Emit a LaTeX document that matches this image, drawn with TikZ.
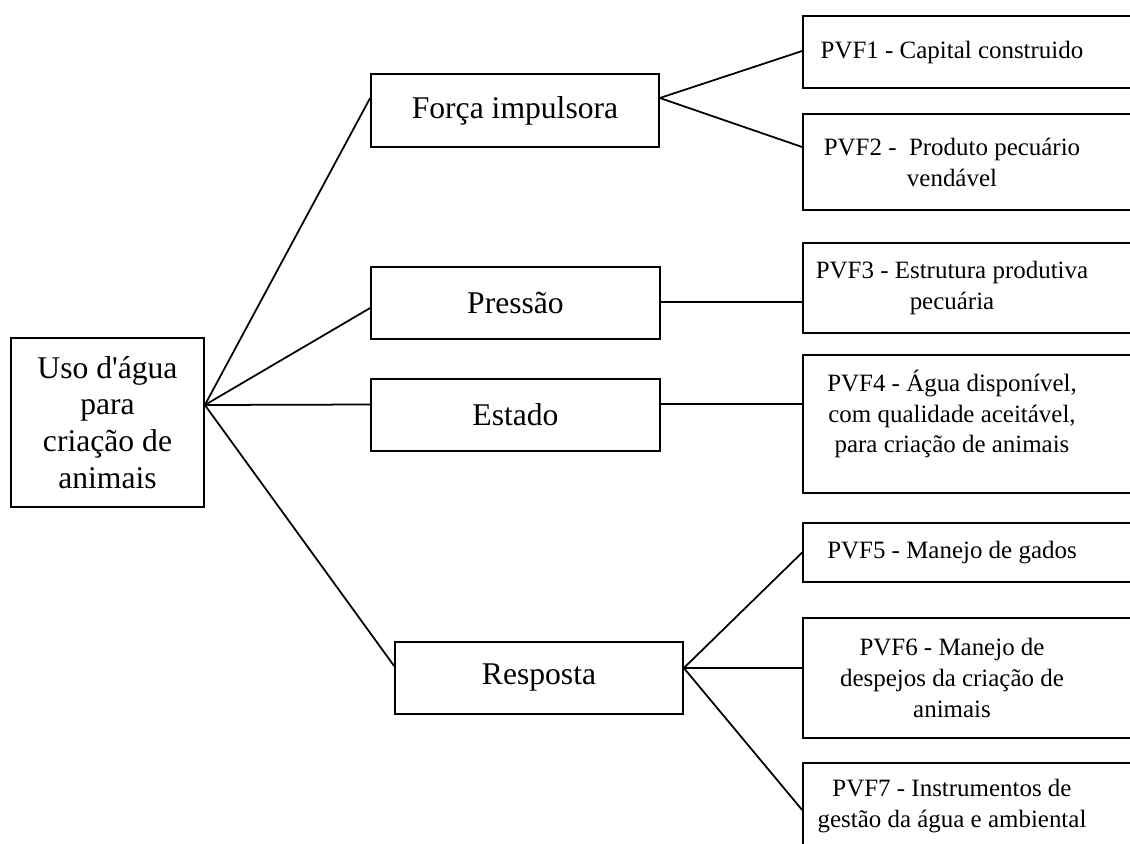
\documentclass[tikz,border=0pt]{standalone}
\usepackage{fontspec}
\setmainfont{Liberation Serif}
\usetikzlibrary{calc}

\begin{document}
\begin{tikzpicture}[x=0.02cm, y=-0.02cm, line width=1pt,
    box/.style={draw, inner sep=0pt},
    big/.style={box, font=\fontsize{18}{21}\selectfont, align=center},
    pvf/.style={box, minimum width=6.74cm},
    pvftxt/.style={font=\fontsize{14.2}{17.6}\selectfont, align=center, xshift=-0.39cm}]
    % Same page as the original
    \useasboundingbox (0,0) rectangle (1130,843);
    \clip (0,0) rectangle (1130,843);

    % Root and the four boxes of the first level
    \node[big, minimum width=3.86cm, minimum height=3.38cm] (uso) at (107.5,422.5) {Uso d\textquotesingle água\\para\\criação de\\animais};
    \node[big, minimum width=5.76cm, minimum height=1.46cm] (forca) at (515,110.5) {Força impulsora};
    \node[big, minimum width=5.78cm, minimum height=1.44cm] (pressao) at (515.5,303) {Pressão};
    \node[big, minimum width=5.78cm, minimum height=1.44cm] (estado) at (515.5,415) {Estado};
    \node[big, minimum width=5.76cm, minimum height=1.44cm] (resposta) at (539,678) {Resposta};

    % PVF boxes (they run off the right edge)
    \node[pvf, minimum height=1.44cm, label={[pvftxt]center:PVF1 - Capital construido}] (pvf1) at (971.5,52) {};
    \node[pvf, minimum height=1.92cm, label={[pvftxt]center:{PVF2 -~ Produto pecuário\\vendável}}] (pvf2) at (971.5,162) {};
    \node[pvf, minimum height=1.80cm, label={[pvftxt]center:{PVF3 - Estrutura produtiva\\pecuária}}] (pvf3) at (971.5,288) {};
    \node[pvf, minimum height=2.76cm, label={[pvftxt, yshift=0.2cm]center:{PVF4 - Água disponível,\\com qualidade aceitável,\\para criação de animais}}] (pvf4) at (971.5,424) {};
    \node[pvf, minimum height=1.18cm, label={[pvftxt]center:PVF5 - Manejo de gados}] (pvf5) at (971.5,552.5) {};
    \node[pvf, minimum height=2.40cm, label={[pvftxt]center:{PVF6 - Manejo de\\despejos da criação de\\animais}}] (pvf6) at (971.5,678) {};
    \node[pvf, minimum height=1.72cm, label={[pvftxt]center:{PVF7 - Instrumentos de\\gestão da água e ambiental}}] (pvf7) at (971.5,806) {};

    % Root to first level
    \draw ($(uso.east)+(0,-17.5)$) -- ($(forca.west)+(0,-12.5)$);
    \draw ($(uso.east)+(0,-17.5)$) -- ($(pressao.west)+(0,5)$);
    \draw ($(uso.east)+(0,-17.5)$) -- ($(estado.west)+(0,-10.5)$);
    \draw ($(uso.east)+(0,-17.5)$) -- ($(resposta.west)+(0,-12)$);

    % First level to PVF
    \draw ($(forca.east)+(0,-12.5)$) -- ($(pvf1.west)+(0,-1)$);
    \draw ($(forca.east)+(0,-12.5)$) -- ($(pvf2.west)+(0,-15)$);
    \draw ($(pressao.east)+(0,-1)$) -- ($(pvf3.west)+(0,14)$);
    \draw ($(estado.east)+(0,-11)$) -- ($(pvf4.west)+(0,-20)$);
    \draw ($(resposta.east)+(0,-10)$) -- (pvf5.west);
    \draw ($(resposta.east)+(0,-10)$) -- ($(pvf6.west)+(0,-10)$);
    \draw ($(resposta.east)+(0,-10)$) -- ($(pvf7.west)+(0,4)$);
\end{tikzpicture}
\end{document}
